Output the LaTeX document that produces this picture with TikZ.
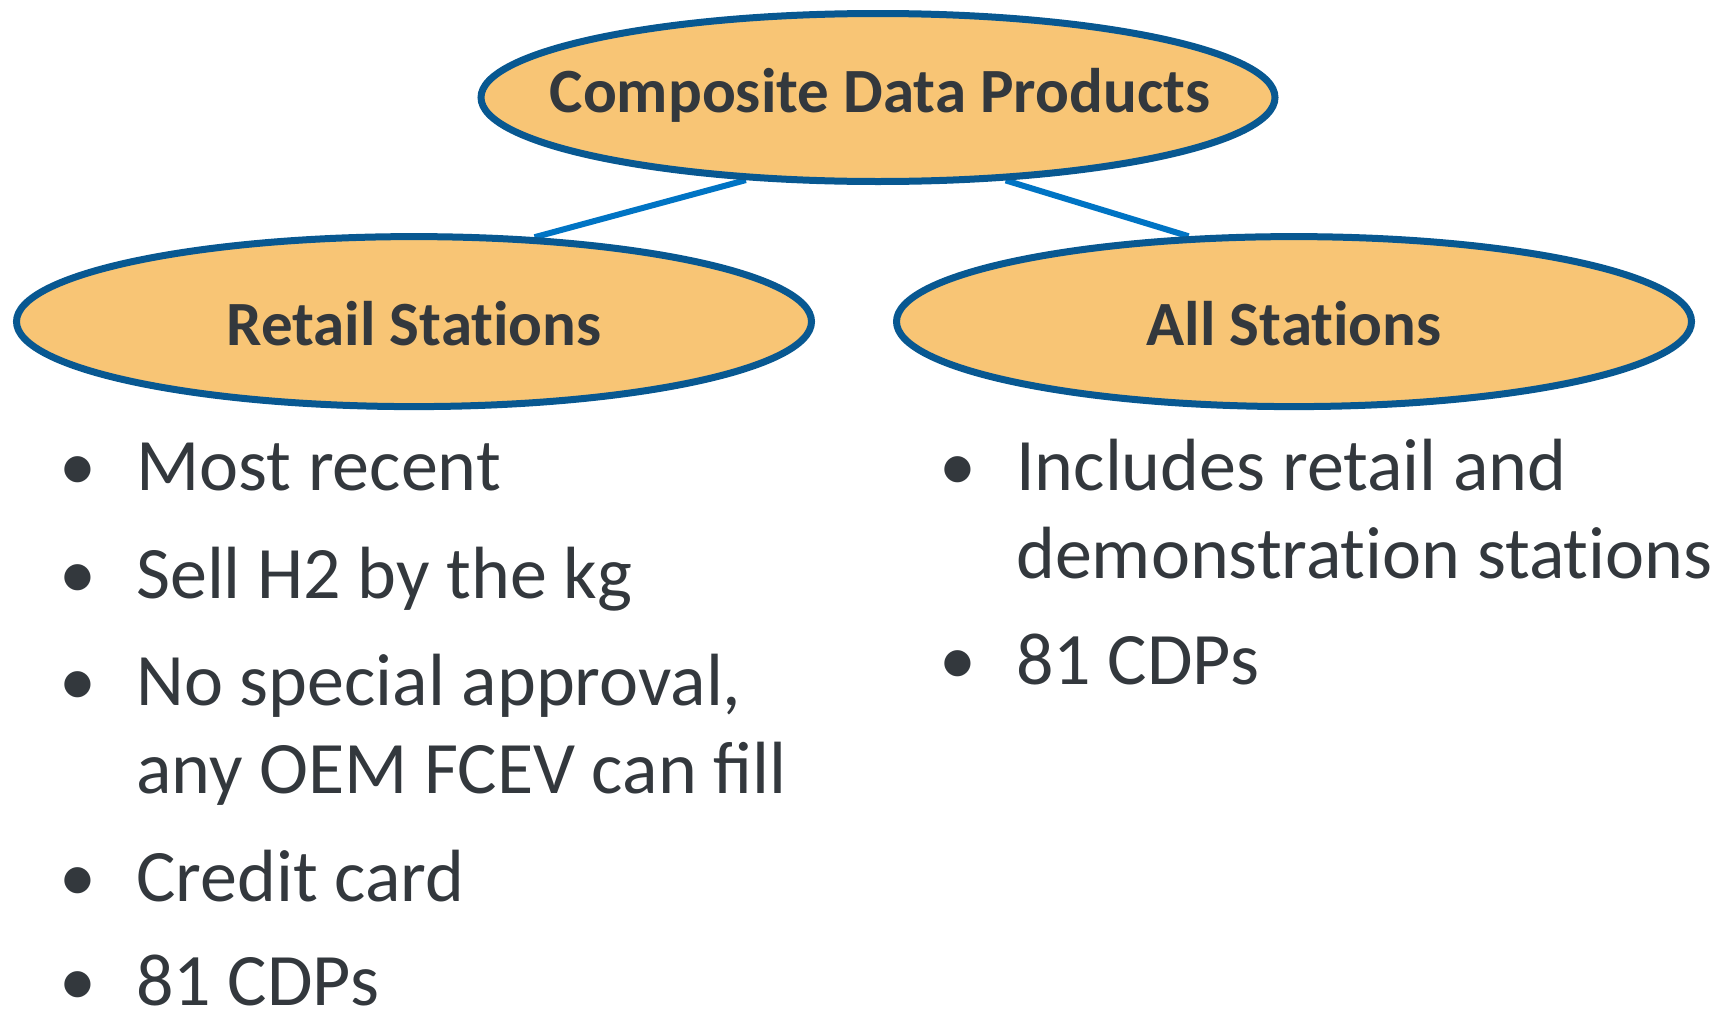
\documentclass[tikz,border=0pt]{standalone}
\usepackage{fontspec}
\setmainfont{Carlito}
\usetikzlibrary{shapes.geometric,backgrounds}
\newcommand\nolig{\kern0pt }
\definecolor{ellfill}{RGB}{248,197,117}
\definecolor{ellline}{RGB}{8,88,145}
\definecolor{conn}{RGB}{0,116,196}
\definecolor{txt}{RGB}{51,56,61}
\tikzset{
  ell/.style={ellipse, draw=ellline, line width=7pt, fill=ellfill, inner sep=0pt},
  ttl/.style={anchor=base, text=txt, font=\fontsize{63}{70}\selectfont\bfseries, inner sep=0pt},
  bul/.style={anchor=base, text=txt, font=\fontsize{74}{88}\selectfont, inner sep=0pt},
  itm/.style={anchor=base west, text=txt, font=\fontsize{74}{88}\selectfont, inner sep=0pt},
  link/.style={draw=conn, line width=6pt}
}
\begin{document}
\begin{tikzpicture}[x=1pt,y=-1pt]
\useasboundingbox (0,0) rectangle (1736,1012);
\node[ell, minimum width=794pt, minimum height=168pt] (top) at (878,97.5) {};
\node[ell, minimum width=795pt, minimum height=170pt] (left) at (414,321.6) {};
\node[ell, minimum width=795pt, minimum height=170pt] (right) at (1294,321.6) {};
\begin{scope}[on background layer]
\draw[link] (top.-148) -- (left.35);
\draw[link] (top.-33) -- (right.141);
\end{scope}
\node[ttl] (toptext) at (880,112) {Composite Data Products};
\node[ttl] (lefttext) at (414,345) {Retail Stat\nolig ions};
\node[ttl] (righttext) at (1294,345) {All Stat\nolig ions};
% left list
\node[bul] (lb1) at (77.5,490) {•};
\node[itm] (li1) at (136,490) {Most recent};
\node[bul] (lb2) at (77.5,598) {•};
\node[itm] (li2) at (136,598) {Sell H2 by the kg};
\node[bul] (lb3) at (77.5,705) {•};
\node[itm] (li3a) at (136,705) {No special approval,};
\node[itm] (li3b) at (136,793) {any OEM FCEV can fill};
\node[bul] (lb4) at (77.5,901) {•};
\node[itm] (li4) at (136,901) {Credit card};
\node[bul] (lb5) at (77.5,1005) {•};
\node[itm] (li5) at (136,1005) {81 CDPs};
% right list
\node[bul] (rb1) at (957.6,490) {•};
\node[itm] (ri1a) at (1016,490) {Includes retail and};
\node[itm] (ri1b) at (1016,578) {demonstrat\nolig ion stat\nolig ions};
\node[bul] (rb2) at (957.6,684) {•};
\node[itm] (ri2) at (1016,684) {81 CDPs};
\end{tikzpicture}
\end{document}
